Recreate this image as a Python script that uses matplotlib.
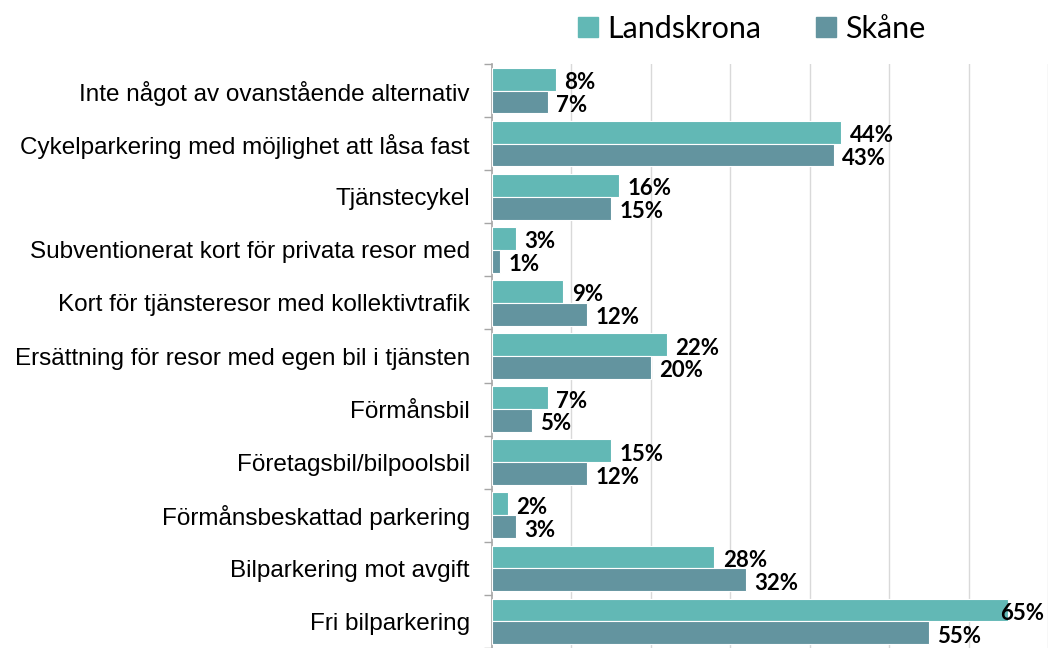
import matplotlib
matplotlib.use("Agg")
import matplotlib.pyplot as plt
import matplotlib.patches as mpatches
import numpy as np

categories = [
    "Inte något av ovanstående alternativ",
    "Cykelparkering med möjlighet att låsa fast",
    "Tjänstecykel",
    "Subventionerat kort för privata resor med",
    "Kort för tjänsteresor med kollektivtrafik",
    "Ersättning för resor med egen bil i tjänsten",
    "Förmånsbil",
    "Företagsbil/bilpoolsbil",
    "Förmånsbeskattad parkering",
    "Bilparkering mot avgift",
    "Fri bilparkering",
]
landskrona = [8, 44, 16, 3, 9, 22, 7, 15, 2, 28, 65]
skane = [7, 43, 15, 1, 12, 20, 5, 12, 3, 32, 55]
series_names = ["Landskrona", "Skåne"]
colors = ["#62b8b5", "#63949f"]

W, H = 1048, 648
fig = plt.figure(figsize=(W / 100, H / 100), dpi=100)
ax_left, ax_top = 492, 64
band = 53.7
ax = fig.add_axes([ax_left / W, 0, (W - ax_left) / W, (H - ax_top) / H])

y = np.arange(len(categories))
h = 0.43
XMAX = 70
for vals, off, col in [(landskrona, -h / 2, colors[0]), (skane, h / 2, colors[1])]:
    bars = ax.barh(y + off, vals, height=h, color=col, edgecolor="white",
                   linewidth=0.8, zorder=3)
    for b, v in zip(bars, vals):
        yc = b.get_y() + b.get_height() / 2
        if v + 6 > XMAX:
            # no room to the right of the bar: pin the label to the edge
            ax.annotate(f"{v}%", (1.0, yc), xycoords=("axes fraction", "data"),
                        xytext=(-3, -2.5), textcoords="offset points",
                        ha="right", va="center", fontsize=16,
                        fontweight="bold", family="Lato", zorder=4)
        else:
            ax.annotate(f"{v}%", (v, yc), xytext=(6, -2.5),
                        textcoords="offset points", ha="left", va="center",
                        fontsize=16, fontweight="bold", family="Lato", zorder=4)

ax.set_xlim(0, XMAX)
ax.set_ylim(-0.5 + (H - ax_top) / band, -0.5)
ax.set_xticks(np.arange(10, XMAX + 1, 10))
ax.tick_params(axis="x", length=0, labelbottom=False)
ax.grid(axis="x", color="#d9d9d9", linewidth=1, zorder=0)

ax.set_yticks(y)
ax.set_yticklabels(categories, family="Liberation Sans", fontsize=17.5)
ax.tick_params(axis="y", which="major", length=0, pad=16)
ax.set_yticks(np.arange(-0.5, len(categories), 1), minor=True)
ax.tick_params(axis="y", which="minor", length=6, color="#a6a6a6", width=1)

for s in ["top", "right", "bottom"]:
    ax.spines[s].set_visible(False)
ax.spines["left"].set_color("#a6a6a6")
ax.spines["left"].set_linewidth(1.2)

handles = [mpatches.Patch(color=c, label=n) for c, n in zip(colors, series_names)]
fig.legend(handles=handles, loc="center", bbox_to_anchor=(751.5 / W, 1 - 29 / H),
           ncol=2, frameon=False, prop={"family": "Lato", "size": 22},
           handlelength=0.65, handleheight=0.65, handletextpad=0.3,
           columnspacing=1.8)

fig.savefig("out.png", dpi=100)
